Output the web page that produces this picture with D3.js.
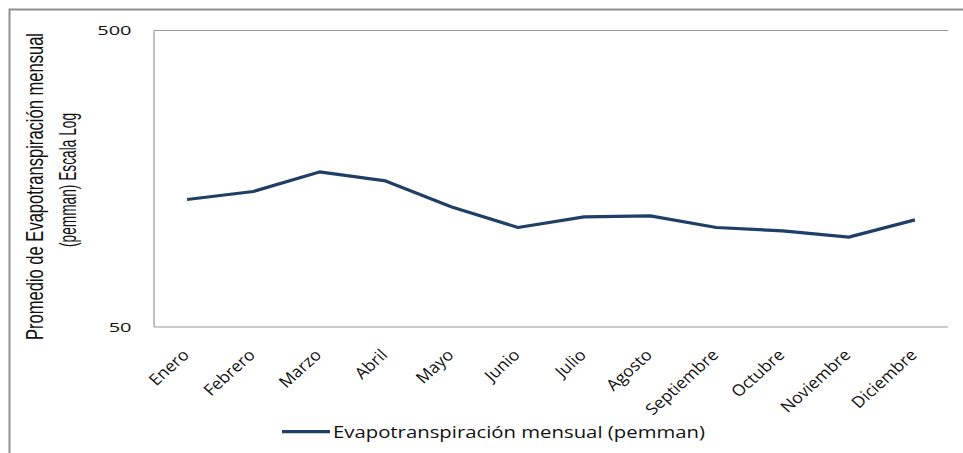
<!DOCTYPE html>
<html>
<head>
<meta charset="utf-8">
<script src="https://cdn.jsdelivr.net/npm/d3@7"></script>
<style>
  html, body { margin: 0; padding: 0; background: #fff; }
  svg { display: block; }
</style>
</head>
<body>
<svg id="chart" width="963" height="453"></svg>
<script>
// ---- data ----
const months = ["Enero","Febrero","Marzo","Abril","Mayo","Junio","Julio","Agosto","Septiembre","Octubre","Noviembre","Diciembre"];
const evapo = [134.6, 143.2, 166.7, 155.5, 127.0, 108.3, 117.6, 118.5, 108.3, 105.5, 100.5, 114.9];
const yTicks = [50, 500];
const seriesName = "Evapotranspiración mensual (pemman)";
const yTitleLines = ["Promedio de Evapotranspiración mensual", "(pemman) Escala Log"];

// ---- layout ----
const svg = d3.select("#chart");
const plot = { left: 154, right: 948, top: 30.5, bottom: 327 };
const squash = 0.66;
const lineColor = "#1f3f66";
const axisColor = "#9a9a9a";

const x = d3.scaleBand().domain(months).range([plot.left, plot.right]);
const y = d3.scaleLog().domain([50, 500]).range([plot.bottom, plot.top]);
const cx = d => x(d) + x.bandwidth() / 2;

// outer frame (extends beyond the picture on right and bottom)
svg.append("rect")
  .attr("x", 9.5).attr("y", 9.5).attr("width", 1000).attr("height", 500)
  .attr("fill", "none").attr("stroke", "#8f8f8f").attr("stroke-width", 2);

// plot frame: top, left, bottom
svg.append("line").attr("x1", plot.left).attr("x2", plot.right)
  .attr("y1", plot.top).attr("y2", plot.top)
  .attr("stroke", axisColor).attr("stroke-width", 1.2);
svg.append("line").attr("x1", plot.left).attr("x2", plot.left)
  .attr("y1", plot.top).attr("y2", plot.bottom)
  .attr("stroke", axisColor).attr("stroke-width", 1.2);
svg.append("line").attr("x1", plot.left).attr("x2", plot.right)
  .attr("y1", plot.bottom).attr("y2", plot.bottom)
  .attr("stroke", axisColor).attr("stroke-width", 1.2);

// y tick labels
svg.selectAll("g.ytick").data(yTicks).enter().append("g")
  .attr("class", "ytick")
  .attr("transform", d => `translate(131.5,${y(d) + 4.8}) scale(1,0.66)`)
  .append("text")
  .attr("text-anchor", "end")
  .attr("font-family", "'Open Sans', sans-serif")
  .attr("font-size", 20)
  .attr("fill", "#111")
  .text(d => d);

// x tick labels (rotated, slightly squashed)
svg.selectAll("g.xtick").data(months).enter().append("g")
  .attr("class", "xtick")
  .attr("transform", d => `translate(${cx(d) + 3},356) scale(1,0.9) rotate(-45)`)
  .append("text")
  .attr("text-anchor", "end")
  .attr("font-family", "'Open Sans', sans-serif")
  .attr("font-size", 17.5)
  .attr("fill", "#111")
  .text(d => d);

// y axis title
const titleCfg = [
  { bx: 43, cy: 186.5, len: 307 },
  { bx: 76, cy: 180, len: 134 }
];
yTitleLines.forEach((t, i) => {
  const c = titleCfg[i];
  svg.append("g")
    .attr("transform", `translate(${c.bx},${c.cy}) scale(1,${squash}) rotate(-90)`)
    .append("text")
    .attr("text-anchor", "middle")
    .attr("font-family", "'Liberation Sans Narrow', 'Liberation Sans', Arial, sans-serif")
    .attr("font-size", 23)
    .attr("fill", "#111")
    .attr("textLength", c.len / squash)
    .attr("lengthAdjust", "spacingAndGlyphs")
    .text(t);
});

// series line
const line = d3.line().x((d, i) => cx(months[i])).y(d => y(d));
svg.append("path")
  .datum(evapo)
  .attr("d", line)
  .attr("fill", "none")
  .attr("stroke", lineColor)
  .attr("stroke-width", 3.2)
  .attr("stroke-linejoin", "round");

// legend
svg.append("line").attr("x1", 282).attr("x2", 330).attr("y1", 431.7).attr("y2", 431.7)
  .attr("stroke", lineColor).attr("stroke-width", 3.2);
svg.append("g")
  .attr("transform", `translate(333,437.5) scale(1,0.74)`)
  .append("text")
  .attr("font-family", "'Open Sans', sans-serif")
  .attr("font-size", 22)
  .attr("fill", "#111")
  .attr("textLength", 372)
  .attr("lengthAdjust", "spacingAndGlyphs")
  .text(seriesName);
</script>
</body>
</html>
